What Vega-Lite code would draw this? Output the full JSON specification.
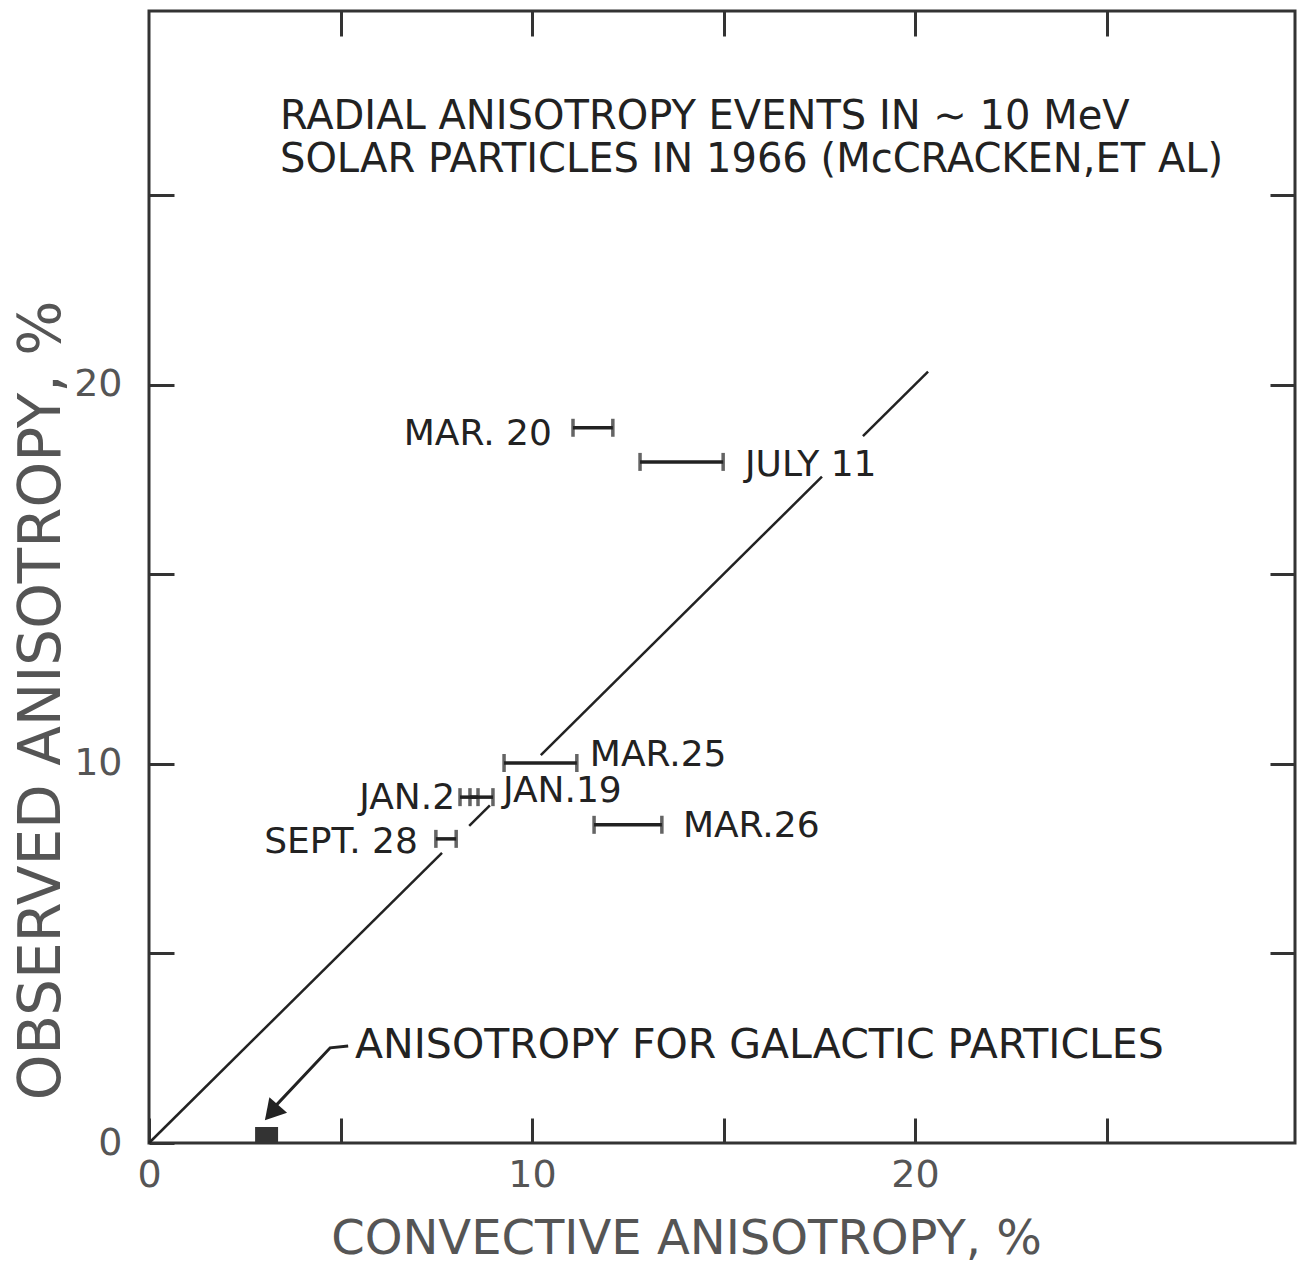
{
  "$schema": "https://vega.github.io/schema/vega-lite/v6.json",
  "autosize": "none",
  "width": 1146,
  "height": 1132,
  "padding": {"left": 149, "top": 11, "right": 6, "bottom": 125},
  "background": "white",
  "view": {"stroke": "#333", "strokeWidth": 3},
  "config": {
    "font": "DejaVu Sans",
    "axis": {
      "grid": false,
      "domain": false,
      "tickColor": "#333",
      "tickWidth": 3,
      "tickSize": -25,
      "labelFlush": false,
      "labelFont": "DejaVu Sans",
      "labelFontSize": 38,
      "labelColor": "#555",
      "titleFont": "DejaVu Sans",
      "titleFontWeight": "normal",
      "titleColor": "#555"
    }
  },
  "datasets": {
    "diag": [
      {"seg": "A", "x": 0, "y": 0},
      {"seg": "A", "x": 7.65, "y": 7.65},
      {"seg": "B", "x": 8.36, "y": 8.36},
      {"seg": "B", "x": 8.9, "y": 8.9},
      {"seg": "C", "x": 10.23, "y": 10.23},
      {"seg": "C", "x": 17.57, "y": 17.57},
      {"seg": "D", "x": 18.64, "y": 18.64},
      {"seg": "D", "x": 20.34, "y": 20.34}
    ],
    "events": [
      {"event": "MAR. 20", "lo": 11.07, "hi": 12.11, "obs": 18.86},
      {"event": "JULY 11", "lo": 12.82, "hi": 14.99, "obs": 17.96},
      {"event": "MAR.25", "lo": 9.27, "hi": 11.17, "obs": 10.02},
      {"event": "JAN.2", "lo": 8.12, "hi": 8.59, "obs": 9.12},
      {"event": "JAN.19", "lo": 8.38, "hi": 8.98, "obs": 9.12},
      {"event": "MAR.26", "lo": 11.62, "hi": 13.39, "obs": 8.39},
      {"event": "SEPT. 28", "lo": 7.49, "hi": 8.02, "obs": 8.02}
    ],
    "labelsRight": [
      {"label": "MAR. 20", "x": 10.52, "y": 18.7},
      {"label": "JAN.2", "x": 7.99, "y": 9.1},
      {"label": "SEPT. 28", "x": 7.02, "y": 7.94}
    ],
    "labelsLeft": [
      {"label": "JULY 11", "x": 15.56, "y": 17.88},
      {"label": "MAR.25", "x": 11.51, "y": 10.23},
      {"label": "JAN.19", "x": 9.24, "y": 9.28},
      {"label": "MAR.26", "x": 13.94, "y": 8.36}
    ],
    "galacticLabel": [
      {"label": "ANISOTROPY FOR GALACTIC PARTICLES", "x": 5.38, "y": 2.56}
    ],
    "titleText": [
      {"label": "RADIAL ANISOTROPY EVENTS IN ∼ 10 MeV", "x": 3.42, "y": 27.06},
      {"label": "SOLAR PARTICLES IN 1966 (McCRACKEN,ET AL)", "x": 3.42, "y": 25.92}
    ],
    "arrow": [
      {"o": 1, "x": 5.2, "y": 2.56},
      {"o": 2, "x": 4.73, "y": 2.51},
      {"o": 3, "x": 3.25, "y": 0.92}
    ],
    "arrowHead": [{"x": 3.2, "y": 0.8}],
    "galactic": [{"x1": 2.77, "x2": 3.37, "y1": 0, "y2": 0.42}]
  },
  "layer": [
    {
      "data": {"name": "diag"},
      "mark": {"type": "line", "color": "#222", "strokeWidth": 2.5},
      "encoding": {
        "x": {
          "field": "x", "type": "quantitative",
          "scale": {"domain": [0, 29.92], "nice": false, "zero": false},
          "axis": {
            "orient": "bottom",
            "values": [0, 5, 10, 15, 20, 25],
            "labelExpr": "datum.value % 10 === 0 ? datum.label : ''",
            "labelPadding": 38,
            "title": "CONVECTIVE ANISOTROPY, %",
            "titleFontSize": 48,
            "titleX": 537,
            "titleY": 110,
            "titleAlign": "center",
            "titleBaseline": "alphabetic"
          }
        },
        "y": {
          "field": "y", "type": "quantitative",
          "scale": {"domain": [0, 29.85], "nice": false, "zero": false},
          "axis": {
            "orient": "left",
            "values": [0, 5, 10, 15, 20, 25],
            "labelExpr": "datum.value % 10 === 0 ? datum.label : ''",
            "labelPadding": 52,
            "title": "OBSERVED ANISOTROPY, %",
            "titleFontSize": 58,
            "titleX": -90,
            "titleY": 689,
            "titleAngle": -90,
            "titleAlign": "center",
            "titleBaseline": "alphabetic"
          }
        },
        "detail": {"field": "seg"}
      }
    },
    {
      "data": {"name": "events"},
      "mark": {"type": "rule", "color": "#222", "strokeWidth": 3.5},
      "encoding": {
        "x": {
          "field": "lo", "type": "quantitative",
          "axis": {"orient": "top", "values": [5, 10, 15, 20, 25], "labels": false, "title": null}
        },
        "x2": {"field": "hi"},
        "y": {
          "field": "obs", "type": "quantitative",
          "axis": {"orient": "right", "values": [5, 10, 15, 20, 25], "labels": false, "title": null}
        }
      }
    },
    {
      "data": {"name": "events"},
      "transform": [{"fold": ["lo", "hi"], "as": ["end", "xv"]}],
      "mark": {"type": "tick", "orient": "vertical", "color": "#222", "thickness": 3.5, "size": 18},
      "encoding": {
        "x": {"field": "xv", "type": "quantitative", "axis": null},
        "y": {"field": "obs", "type": "quantitative", "axis": null}
      }
    },
    {
      "data": {"name": "labelsRight"},
      "mark": {"type": "text", "align": "right", "baseline": "middle", "font": "DejaVu Sans", "fontSize": 36, "color": "#222"},
      "encoding": {
        "x": {"field": "x", "type": "quantitative", "axis": null},
        "y": {"field": "y", "type": "quantitative", "axis": null},
        "text": {"field": "label"}
      }
    },
    {
      "data": {"name": "labelsLeft"},
      "mark": {"type": "text", "align": "left", "baseline": "middle", "font": "DejaVu Sans", "fontSize": 36, "color": "#222"},
      "encoding": {
        "x": {"field": "x", "type": "quantitative", "axis": null},
        "y": {"field": "y", "type": "quantitative", "axis": null},
        "text": {"field": "label"}
      }
    },
    {
      "data": {"name": "galacticLabel"},
      "mark": {"type": "text", "align": "left", "baseline": "middle", "font": "DejaVu Sans", "fontSize": 41, "color": "#222"},
      "encoding": {
        "x": {"field": "x", "type": "quantitative", "axis": null},
        "y": {"field": "y", "type": "quantitative", "axis": null},
        "text": {"field": "label"}
      }
    },
    {
      "data": {"name": "titleText"},
      "mark": {"type": "text", "align": "left", "baseline": "middle", "font": "DejaVu Sans", "fontSize": 40, "color": "#222"},
      "encoding": {
        "x": {"field": "x", "type": "quantitative", "axis": null},
        "y": {"field": "y", "type": "quantitative", "axis": null},
        "text": {"field": "label"}
      }
    },
    {
      "data": {"name": "arrow"},
      "mark": {"type": "line", "color": "#222", "strokeWidth": 3},
      "encoding": {
        "x": {"field": "x", "type": "quantitative", "axis": null},
        "y": {"field": "y", "type": "quantitative", "axis": null},
        "order": {"field": "o"}
      }
    },
    {
      "data": {"name": "arrowHead"},
      "mark": {"type": "point", "shape": "triangle-up", "filled": true, "color": "#222", "opacity": 1, "size": 550, "angle": 221},
      "encoding": {
        "x": {"field": "x", "type": "quantitative", "axis": null},
        "y": {"field": "y", "type": "quantitative", "axis": null}
      }
    },
    {
      "data": {"name": "galactic"},
      "mark": {"type": "rect", "color": "#333"},
      "encoding": {
        "x": {"field": "x1", "type": "quantitative", "axis": null},
        "x2": {"field": "x2"},
        "y": {"field": "y1", "type": "quantitative", "axis": null},
        "y2": {"field": "y2"}
      }
    }
  ],
  "resolve": {"axis": {"x": "independent", "y": "independent"}}
}
